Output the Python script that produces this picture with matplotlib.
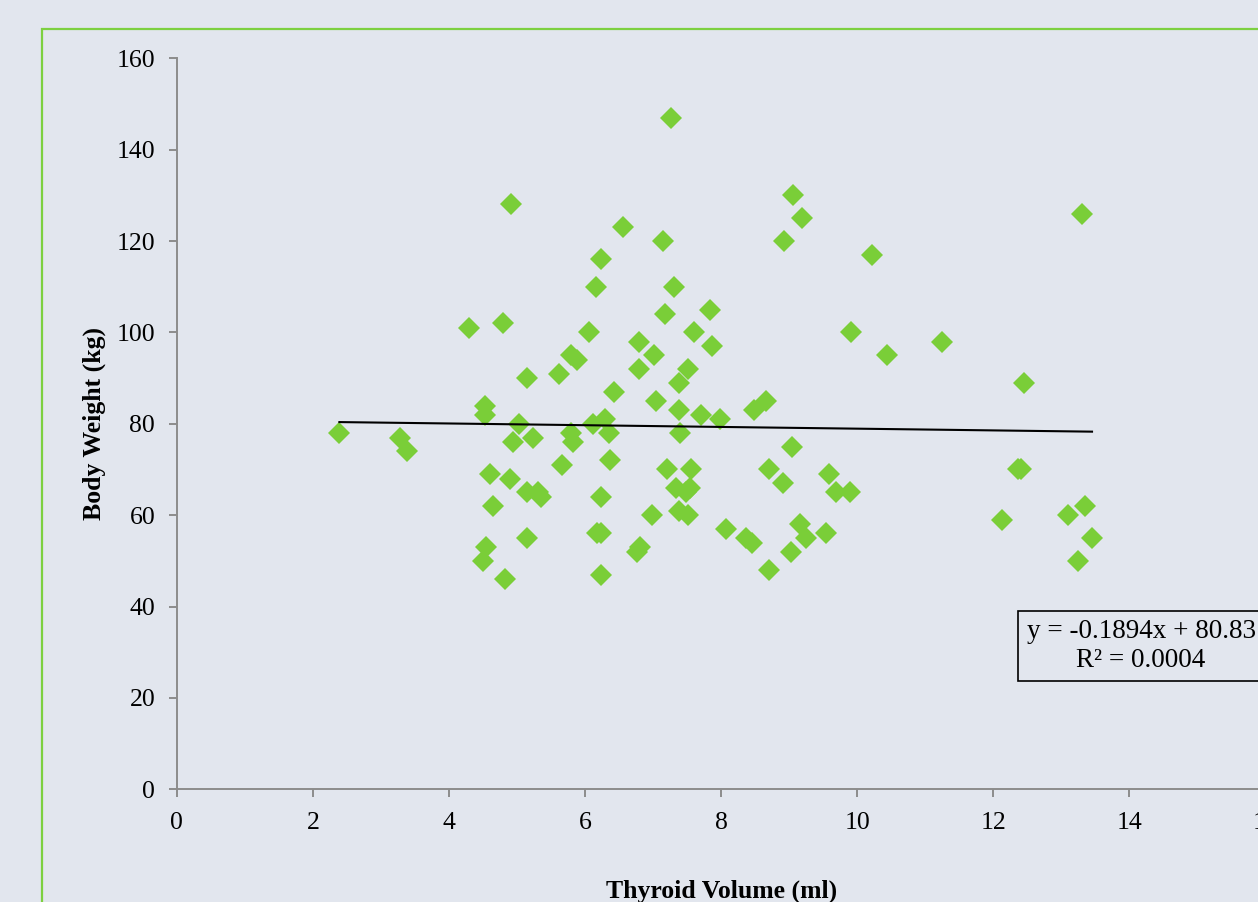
import numpy as np
import matplotlib
matplotlib.use("Agg")
import matplotlib.pyplot as plt
from matplotlib.patches import Rectangle

# thyroid volume (ml) and body weight (kg)
thyroid_ml = [
    2.39, 3.28, 3.38, 4.29, 4.79, 4.91, 4.53, 4.53, 4.94, 5.03,
    4.61, 4.65, 4.54, 4.50, 4.82, 4.89, 5.15, 5.24, 5.14, 5.31,
    5.36, 5.14, 5.62, 5.66, 5.79, 5.88, 5.79, 5.83, 6.06, 6.16,
    6.23, 6.12, 6.30, 6.35, 6.37, 6.23, 6.17, 6.23, 6.23, 6.43,
    6.56, 6.79, 6.80, 6.76, 6.81, 7.01, 7.04, 6.98, 7.15, 7.26,
    7.17, 7.30, 7.21, 7.38, 7.38, 7.40, 7.33, 7.38, 7.51, 7.56,
    7.54, 7.48, 7.52, 7.60, 7.71, 7.83, 7.86, 7.98, 8.07, 8.37,
    8.46, 8.48, 8.66, 8.71, 8.70, 8.91, 8.92, 9.06, 9.04, 9.03,
    9.19, 9.16, 9.24, 9.54, 9.59, 9.69, 9.91, 9.90, 10.22, 10.44,
    11.25, 12.13, 12.36, 12.41, 12.45, 13.10, 13.25, 13.31, 13.35, 13.45,
]
weight_kg = [
    78, 77, 74, 101, 102, 128, 84, 82, 76, 80,
    69, 62, 53, 50, 46, 68, 90, 77, 65, 65,
    64, 55, 91, 71, 95, 94, 78, 76, 100, 110,
    116, 80, 81, 78, 72, 64, 56, 56, 47, 87,
    123, 98, 92, 52, 53, 95, 85, 60, 120, 147,
    104, 110, 70, 89, 83, 78, 66, 61, 92, 70,
    66, 65, 60, 100, 82, 105, 97, 81, 57, 55,
    54, 83, 85, 70, 48, 67, 120, 130, 75, 52,
    125, 58, 55, 56, 69, 65, 100, 65, 117, 95,
    98, 59, 70, 70, 89, 60, 50, 126, 62, 55,
]

# linear trendline as reported on the chart
slope = -0.1894
intercept = 80.83
r_squared = 0.0004

bg = "#E2E6EE"
green = "#7ACE38"
grey = "#8C8C8C"
serif = ["Liberation Serif", "DejaVu Serif"]
plt.rcParams["font.family"] = serif

fig = plt.figure(figsize=(12.58, 9.02), dpi=100, facecolor=bg)
ax = fig.add_axes([0.1405, 0.1249, 0.8655, 0.8105])
ax.set_facecolor(bg)

# green frame around the chart area (runs off the right/bottom edge)
fig.patches.append(Rectangle((0.0334, -0.2), 1.2, 0.9678 + 0.2,
                             transform=fig.transFigure, fill=False,
                             edgecolor="#7DD040", linewidth=1.6))

ax.plot(thyroid_ml, weight_kg, linestyle="none", marker="D",
        markersize=11.3, color=green, markeredgewidth=0, zorder=3)

xs = np.array([min(thyroid_ml), max(thyroid_ml)])
ax.plot(xs, slope * xs + intercept, color="black", linewidth=1.5, zorder=4)

ax.text(14.17, 31.4,
        "y = {:.4f}x + {:.2f}\nR² = {:.4f}".format(slope, intercept, r_squared),
        ha="center", va="center", multialignment="center", fontsize=19.5,
        clip_on=False, zorder=5,
        bbox=dict(boxstyle="square,pad=0.3", facecolor=bg,
                  edgecolor="black", linewidth=1.2))

ax.set_xlim(0, 16)
ax.set_ylim(0, 160)
ax.set_xticks(np.arange(0, 17, 2))
ax.set_yticks(np.arange(0, 161, 20))

for side in ("top", "right"):
    ax.spines[side].set_visible(False)
for side in ("left", "bottom"):
    ax.spines[side].set_color(grey)
    ax.spines[side].set_linewidth(1.4)

ax.tick_params(axis="both", colors=grey, labelcolor="black",
               labelsize=18.5, length=5.5, width=1.4)
ax.tick_params(axis="y", pad=10)
ax.tick_params(axis="x", pad=11)

ax.set_xlabel("Thyroid Volume (ml)", fontsize=18.5, fontweight="bold")
ax.set_ylabel("Body Weight (kg)", fontsize=18.5, fontweight="bold")
ax.xaxis.set_label_coords(0.5, -0.124)
ax.yaxis.set_label_coords(-0.065, 0.5)

fig.savefig("out.png", dpi=100, facecolor=bg)
